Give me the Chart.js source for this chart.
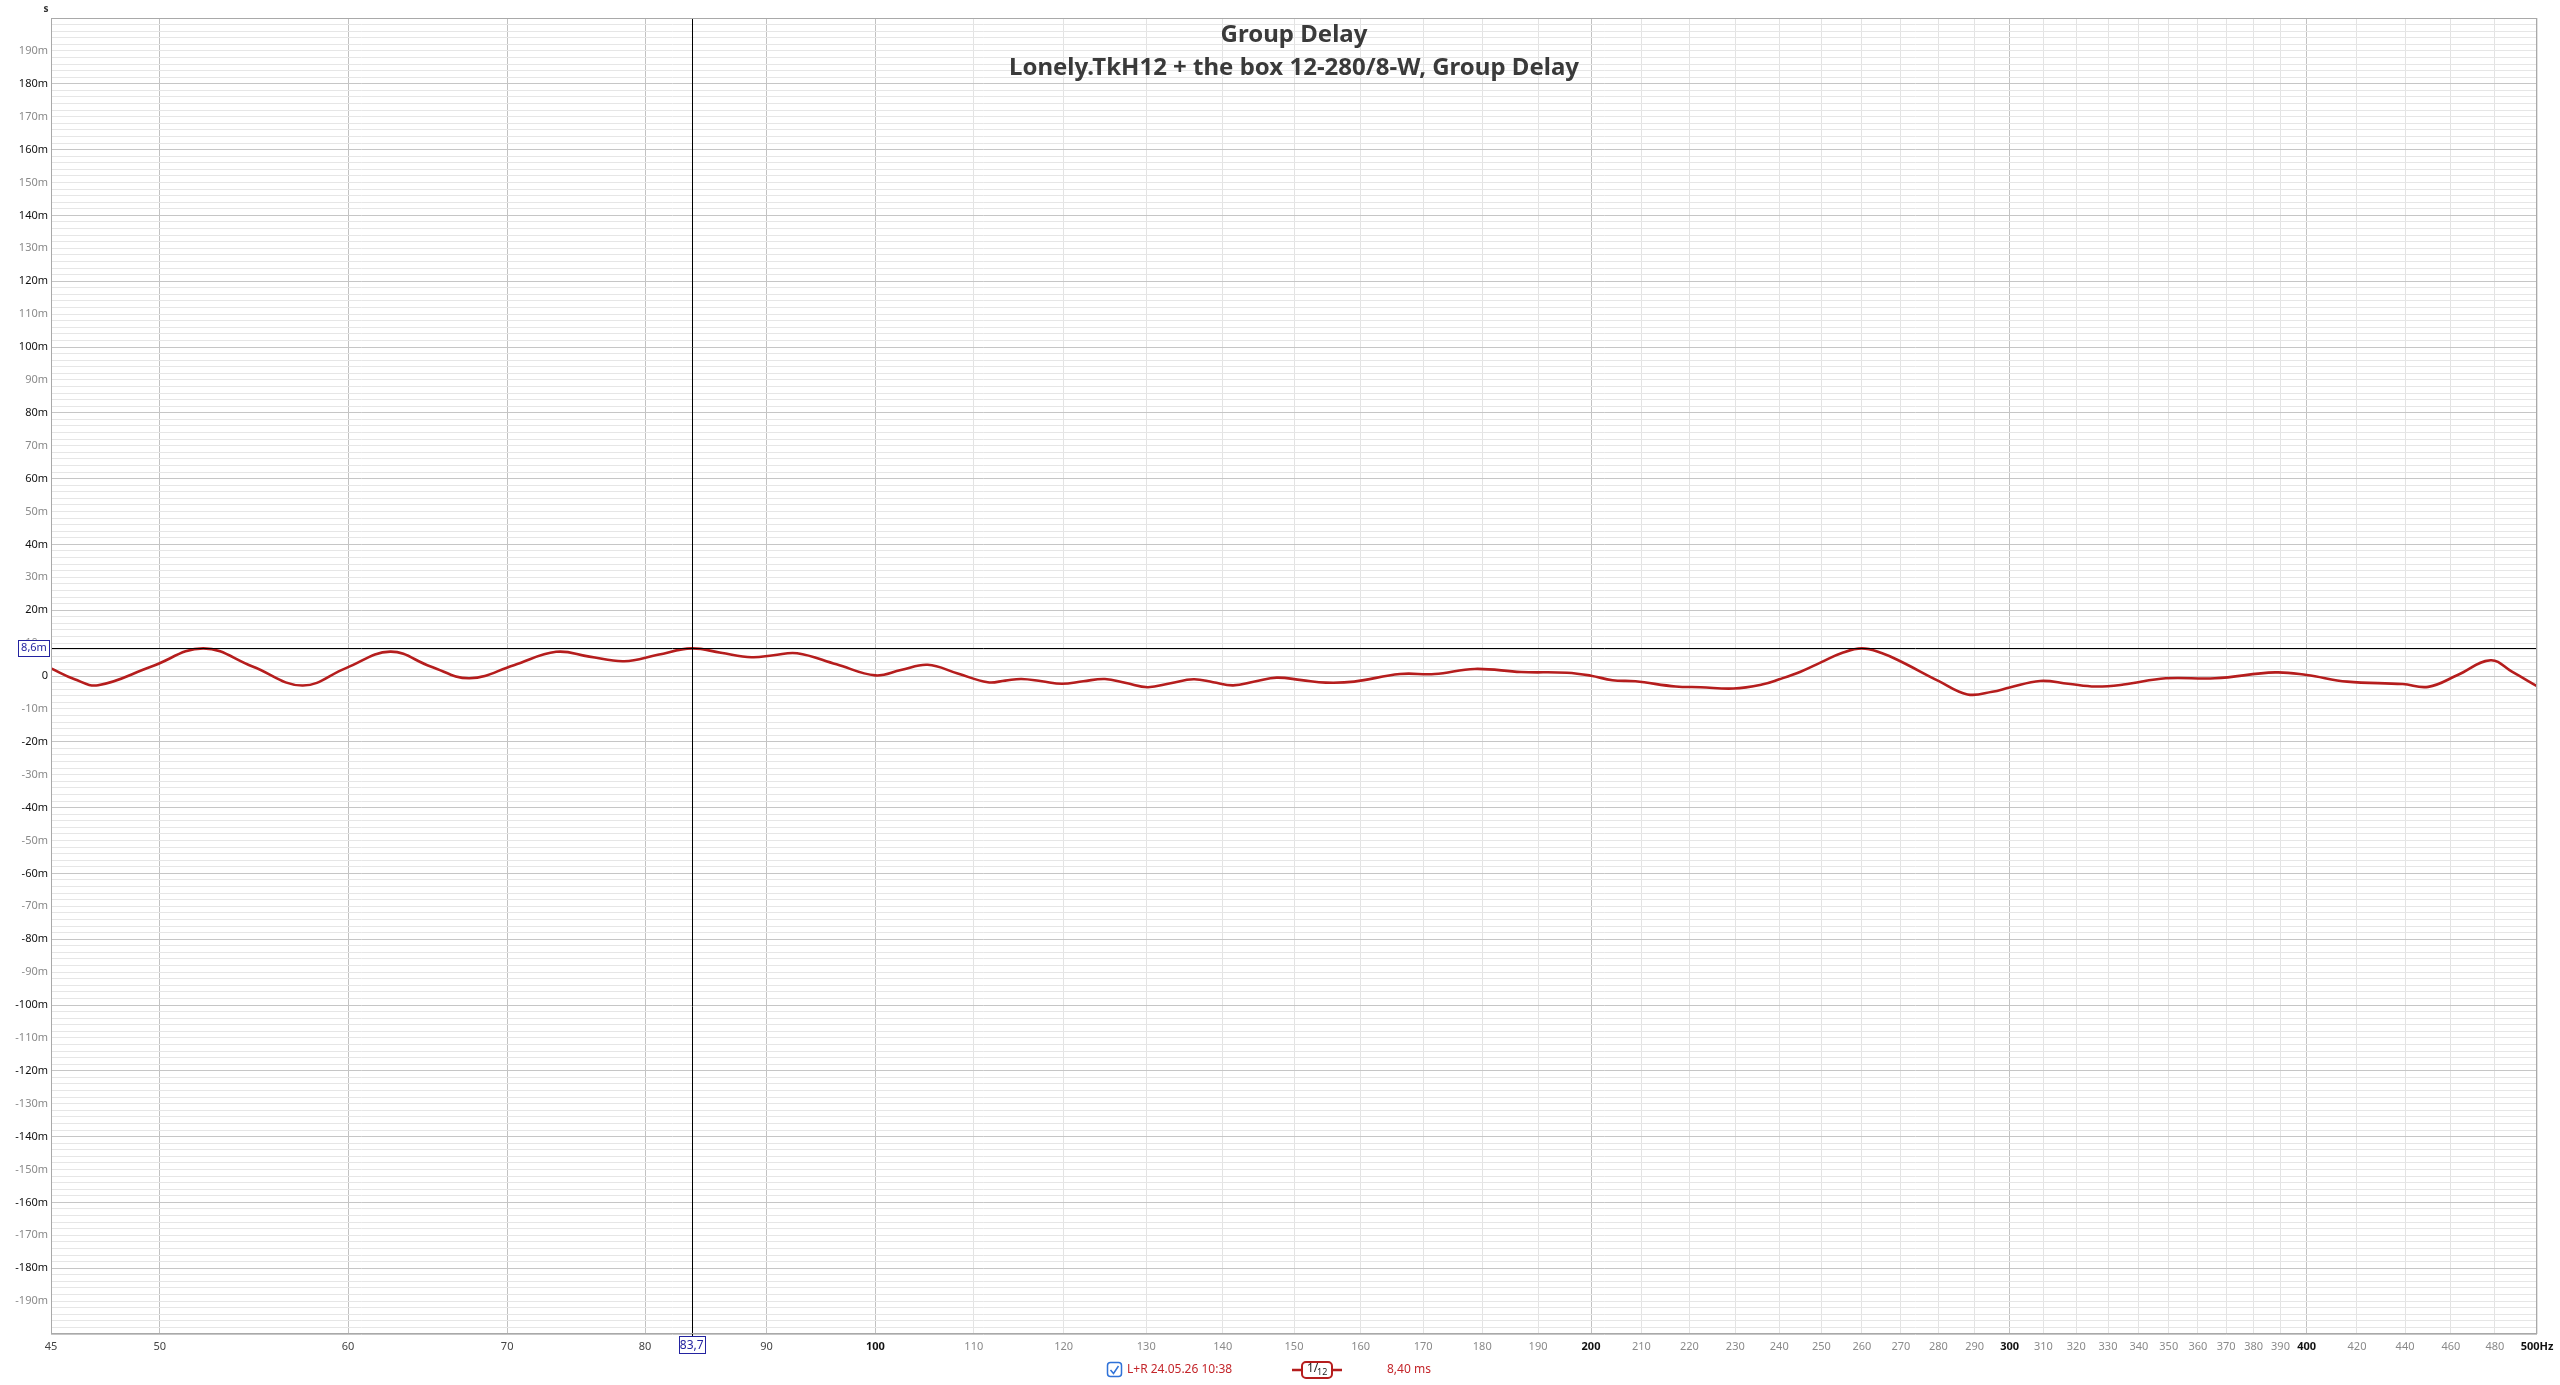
<!DOCTYPE html>
<html>
<head>
<meta charset="utf-8">
<title>Group Delay</title>
<script src="https://cdn.jsdelivr.net/npm/chart.js@4.4.1/dist/chart.umd.min.js"></script>
<style>
  html, body { margin: 0; padding: 0; background: #fff; }
  #wrap { width: 2560px; height: 1385px; }
</style>
</head>
<body>
<div id="wrap"><canvas id="gdChart" width="2560" height="1385"></canvas></div>
<script>
// Group delay (Hz -> ms)
const freqHz = [45, 46.04, 47.1, 49.57, 52.15, 54.7, 57.4, 59.88, 62.5, 65.0, 67.5, 70.46, 73.4, 75.8,
  78.4, 81.0, 83.7, 86.1, 88.7, 90.6, 92.7, 96.3, 100, 102.5, 105.2, 108.3, 111.5, 113.4, 115.2, 117.5,
  119.8, 122.3, 124.9, 127.5, 130.2, 133.1, 136.1, 138.7, 141.4, 144.4, 147.5, 151.1, 154.7, 159.0,
  166.2, 171.9, 178.7, 186.9, 195.4, 200, 204.2, 208.8, 217.1, 222.4, 229.6, 236, 240, 245, 250, 255,
  260, 265, 270, 280, 288, 295, 300, 309, 317.5, 326, 335, 349, 366, 388, 400, 416, 439, 450, 463, 478,
  488, 500];
const delayMs = [2.3, -1.0, -2.8, 2.8, 8.4, 2.9, -2.9, 2.4, 7.4, 2.9, -0.7, 3.3, 7.35, 5.9,
  4.5, 6.45, 8.4, 7.05, 5.7, 6.3, 6.9, 3.55, 0.2, 1.8, 3.4, 0.75, -1.9, -1.4, -0.9, -1.6,
  -2.35, -1.6, -0.9, -2.15, -3.4, -2.2, -1.0, -1.9, -2.85, -1.7, -0.5, -1.25, -2.0, -1.7,
  0.6, 0.6, 2.15, 1.2, 1.0, 0.1, -1.3, -1.6, -3.2, -3.4, -3.8, -2.6, -1.0, 1.3, 4.2, 7.0,
  8.4, 7.0, 4.4, -1.5, -5.6, -4.8, -3.5, -1.5, -2.35, -3.2, -2.6, -0.7, -0.7, 1.1, 0.3, -1.7, -2.45, -3.3, 0.3, 4.8,
  1.3, -3.1];

const xTickValues = [45, 50, 60, 70, 80, 90, 100, 110, 120, 130, 140, 150, 160, 170, 180, 190, 200,
  210, 220, 230, 240, 250, 260, 270, 280, 290, 300, 310, 320, 330, 340, 350, 360, 370, 380, 390, 400,
  420, 440, 460, 480, 500];
const xTickLabels = ['45', '50', '60', '70', '80', '90', '100', '110', '120', '130', '140', '150', '160',
  '170', '180', '190', '200', '210', '220', '230', '240', '250', '260', '270', '280', '290', '300', '310',
  '320', '330', '340', '350', '360', '370', '380', '390', '400', '420', '440', '460', '480', '500Hz'];
const xMajor = [50, 60, 70, 80, 90, 100, 200, 300, 400];
const xDark = [45, 50, 60, 70, 80, 90];
const xBold = [100, 200, 300, 400, 500];

const yMin = -200, yMax = 200, yStep = 2;

const titleLines = ['Group Delay', 'Lonely.TkH12 + the box 12-280/8-W, Group Delay'];
const cursorFreq = 83.7, cursorDelay = 8.6;
const cursorXLabel = '83,7', cursorYLabel = '8,6m';
const legendName = 'L+R 24.05.26 10:38';
const legendValue = '8,40 ms';

const FONT = "'Noto Sans', 'Open Sans', sans-serif";
const RED = '#b51d1d';
const BLUE = '#2323a0';

// everything drawn on top of the grid
const overlay = {
  id: 'overlay',
  afterDatasetsDraw(chart) {
    const { ctx, chartArea: a, scales } = chart;
    const cx = Math.round(scales.x.getPixelForValue(cursorFreq)) + 0.5;
    const cy = Math.round(scales.y.getPixelForValue(cursorDelay)) + 0.5;
    ctx.save();
    ctx.strokeStyle = '#000';
    ctx.lineWidth = 1;
    ctx.beginPath();
    ctx.moveTo(cx, a.top); ctx.lineTo(cx, a.bottom + 2);
    ctx.moveTo(a.left, cy); ctx.lineTo(a.right, cy);
    ctx.stroke();
    ctx.restore();
  },
  afterDraw(chart) {
    const { ctx, chartArea: a, scales } = chart;
    ctx.save();

    // frame
    ctx.strokeStyle = '#a9a9a9';
    ctx.lineWidth = 1;
    ctx.strokeRect(a.left + 0.5, a.top + 0.5, a.right - a.left - 1, a.bottom - a.top - 1);

    // unit
    ctx.fillStyle = '#333';
    ctx.font = 'bold 10px ' + FONT;
    ctx.textAlign = 'center';
    ctx.textBaseline = 'middle';
    ctx.fillText('s', 46, 9);

    // title
    const mid = (a.left + a.right) / 2;
    ctx.fillStyle = '#3a3a3a';
    ctx.font = 'bold 24px ' + FONT;
    ctx.fillText(titleLines[0], mid, 35);
    ctx.fillText(titleLines[1], mid, 68.5);

    // cursor value boxes
    const cx = scales.x.getPixelForValue(cursorFreq);
    const cy = scales.y.getPixelForValue(cursorDelay);
    ctx.font = '11px ' + FONT;
    ctx.lineWidth = 1;
    ctx.strokeStyle = BLUE;
    ctx.fillStyle = '#fff';
    ctx.fillRect(18, cy - 8, 31, 16);
    ctx.strokeRect(18.5, Math.round(cy - 8) + 0.5, 31, 16);
    ctx.fillRect(cx - 13, 1336, 26, 17);
    ctx.strokeRect(Math.round(cx - 13) + 0.5, 1336.5, 26, 17);
    ctx.fillStyle = BLUE;
    ctx.fillText(cursorYLabel, 34, cy + 0.5);
    ctx.font = '12px ' + FONT;
    ctx.fillText(cursorXLabel, cx, 1345.5);

    // legend row
    const ly = 1370;
    ctx.strokeStyle = '#2f72d8';
    ctx.lineWidth = 1.5;
    ctx.beginPath();
    ctx.roundRect(1107.5, ly - 7.5, 14, 14, 3);
    ctx.stroke();
    ctx.beginPath();
    ctx.moveTo(1110.5, ly); ctx.lineTo(1113.5, ly + 3.5); ctx.lineTo(1118.5, ly - 4);
    ctx.stroke();

    ctx.textAlign = 'left';
    ctx.font = '12px ' + FONT;
    ctx.fillStyle = '#c4262b';
    ctx.fillText(legendName, 1127, ly);
    ctx.fillText(legendValue, 1387, ly);

    ctx.strokeStyle = RED;
    ctx.lineWidth = 2.5;
    ctx.beginPath();
    ctx.moveTo(1292, ly); ctx.lineTo(1342, ly);
    ctx.stroke();
    ctx.fillStyle = '#fff';
    ctx.lineWidth = 2;
    ctx.beginPath();
    ctx.roundRect(1302, ly - 8, 30, 16, 4);
    ctx.fill();
    ctx.stroke();
    ctx.fillStyle = '#222';
    ctx.font = '12px ' + FONT;
    ctx.fillText('1/', 1307, ly - 1);
    ctx.font = '9px ' + FONT;
    ctx.fillText('12', 1317, ly + 2);

    ctx.restore();
  }
};

new Chart(document.getElementById('gdChart'), {
  type: 'line',
  data: {
    datasets: [{
      data: freqHz.map((f, i) => ({ x: f, y: delayMs[i] })),
      borderColor: RED,
      borderWidth: 2.6,
      pointRadius: 0,
      tension: 0.4,
      fill: false,
    }]
  },
  options: {
    responsive: false,
    animation: false,
    devicePixelRatio: 1,
    layout: { padding: { top: 18, right: 23, bottom: 0, left: 0 } },
    plugins: { legend: { display: false }, tooltip: { enabled: false }, title: { display: false } },
    scales: {
      x: {
        type: 'logarithmic',
        min: 45,
        max: 500,
        afterBuildTicks: (scale) => { scale.ticks = xTickValues.map(v => ({ value: v })); },
        afterFit: (scale) => { scale.height = 51; },
        border: { display: false },
        grid: {
          drawTicks: false,
          color: (c) => xMajor.includes(c.tick.value) ? '#c2c2c2' : '#e3e3e3',
        },
        ticks: {
          autoSkip: false,
          maxRotation: 0,
          padding: 6,
          callback: (v, i) => xTickLabels[i],
          color: (c) => xBold.includes(c.tick.value) ? '#111' : (xDark.includes(c.tick.value) ? '#444' : '#8a8a8a'),
          font: (c) => ({ family: FONT, size: 11, weight: xBold.includes(c.tick.value) ? 'bold' : 'normal' }),
        },
      },
      y: {
        type: 'linear',
        min: yMin,
        max: yMax,
        afterBuildTicks: (scale) => {
          const t = [];
          for (let v = yMin; v <= yMax; v += yStep) t.push({ value: v });
          scale.ticks = t;
        },
        afterFit: (scale) => { scale.width = 51; },
        border: { display: false },
        grid: {
          drawTicks: false,
          color: (c) => c.tick.value % 20 === 0 ? '#c6c6c6' : '#e6e6e6',
        },
        ticks: {
          autoSkip: false,
          padding: 3,
          callback: (v) => (v % 10 !== 0 || Math.abs(v) === 200) ? '' : (v === 0 ? '0' : v + 'm'),
          color: (c) => c.tick.value % 20 === 0 ? '#111' : '#8a8a8a',
          font: { family: FONT, size: 11 },
        },
      },
    },
  },
  plugins: [overlay],
});
</script>
</body>
</html>
